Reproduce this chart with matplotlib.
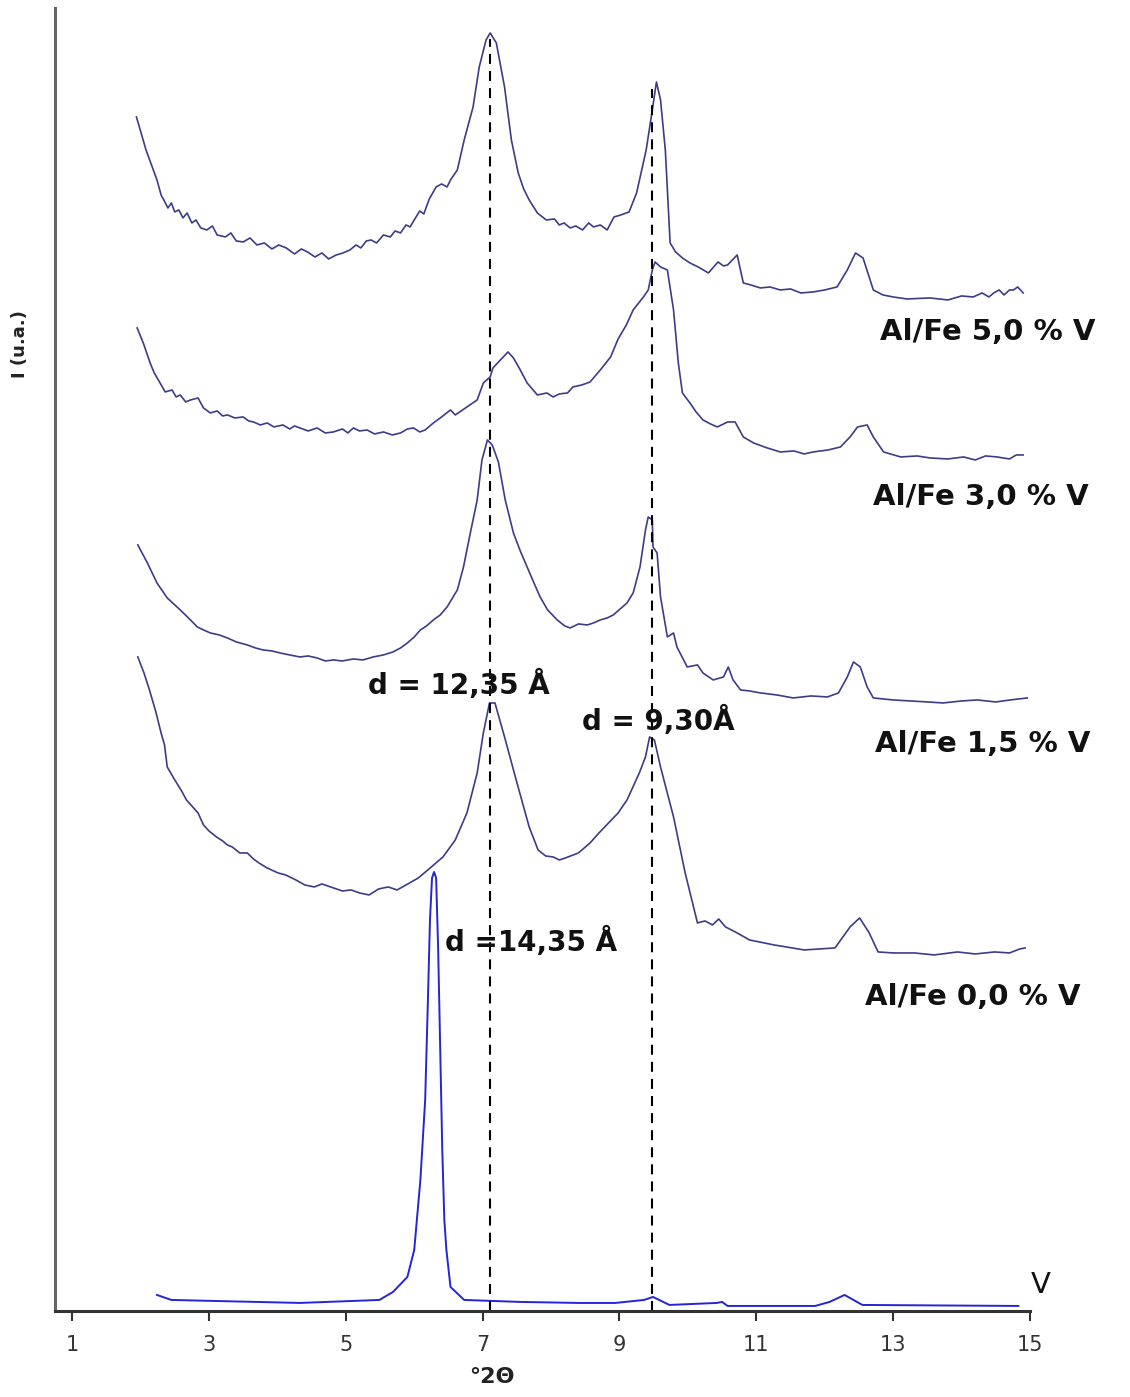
import numpy as np
from matplotlib import pyplot as plt

# ---------------- dati (2theta in gradi, intensita' in u.a.) ----------------
tt_50 = [1.94, 2.00, 2.08, 2.16, 2.24, 2.30, 2.34, 2.40, 2.45, 2.50, 2.56, 2.62, 2.68, 2.75, 2.81,
         2.88, 2.97, 3.05, 3.12, 3.24, 3.32, 3.40, 3.50, 3.60, 3.70, 3.81, 3.92, 4.02, 4.13, 4.25,
         4.35, 4.44, 4.55, 4.65, 4.75, 4.86, 4.96, 5.06, 5.15, 5.22, 5.30, 5.37, 5.45, 5.55, 5.65,
         5.72, 5.80, 5.88, 5.94, 6.00, 6.08, 6.14, 6.22, 6.32, 6.40, 6.48, 6.53, 6.63, 6.73, 6.86,
         6.95, 7.05, 7.11, 7.20, 7.32, 7.42, 7.52, 7.60, 7.68, 7.80, 7.93, 8.05, 8.12, 8.19, 8.28,
         8.36, 8.46, 8.55, 8.62, 8.72, 8.82, 8.92, 9.02, 9.14, 9.25, 9.39, 9.48, 9.54, 9.60, 9.67,
         9.74, 9.82, 9.92, 10.03, 10.15, 10.30, 10.44, 10.52, 10.58, 10.72, 10.81, 10.92, 11.06,
         11.20, 11.35, 11.50, 11.65, 11.83, 12.00, 12.18, 12.33, 12.45, 12.56, 12.71, 12.85, 13.00,
         13.20, 13.54, 13.80, 14.00, 14.17, 14.30, 14.40, 14.47, 14.55, 14.62, 14.70, 14.76, 14.82, 14.90]
I_50 = [1194, 1180, 1161, 1146, 1131, 1116, 1111, 1103, 1108, 1099, 1101, 1093, 1098, 1088, 1091,
        1083, 1081, 1085, 1076, 1074, 1078, 1070, 1069, 1073, 1066, 1068, 1062, 1066, 1063, 1057,
        1062, 1059, 1054, 1058, 1052, 1056, 1058, 1061, 1066, 1063, 1070, 1071, 1068, 1076, 1074,
        1080, 1078, 1086, 1084, 1091, 1100, 1097, 1112, 1124, 1127, 1124, 1131, 1141, 1171, 1204,
        1244, 1271, 1278, 1268, 1224, 1171, 1138, 1122, 1111, 1098, 1091, 1092, 1086, 1088, 1083,
        1085, 1081, 1088, 1084, 1086, 1081, 1094, 1096, 1099, 1118, 1161, 1201, 1229, 1211, 1161,
        1068, 1059, 1053, 1048, 1044, 1038, 1049, 1045, 1046, 1056, 1028, 1026, 1023,
        1024, 1021, 1022, 1018, 1019, 1021, 1024, 1041, 1058, 1053, 1021, 1016, 1014,
        1012, 1013, 1011, 1015, 1014, 1018, 1014, 1018, 1021, 1016, 1021, 1021, 1024, 1018]

tt_30 = [1.95, 2.04, 2.14, 2.20, 2.26, 2.36, 2.46, 2.52, 2.58, 2.66, 2.73, 2.84, 2.92, 3.02, 3.12,
         3.20, 3.27, 3.38, 3.50, 3.58, 3.65, 3.75, 3.85, 3.95, 4.08, 4.18, 4.25, 4.33, 4.45, 4.58,
         4.70, 4.82, 4.95, 5.03, 5.11, 5.20, 5.31, 5.42, 5.55, 5.68, 5.80, 5.90, 5.99, 6.08, 6.16,
         6.28, 6.40, 6.53, 6.60, 6.77, 6.92, 7.01, 7.11, 7.15, 7.26, 7.37, 7.45, 7.55, 7.65, 7.80,
         7.94, 8.03, 8.12, 8.24, 8.32, 8.45, 8.57, 8.72, 8.87, 8.98, 9.10, 9.20, 9.35, 9.42, 9.48,
         9.52, 9.60, 9.70, 9.79, 9.86, 9.92, 10.03, 10.12, 10.22, 10.33, 10.43, 10.58, 10.69, 10.81,
         10.96, 11.16, 11.35, 11.55, 11.70, 11.83, 12.05, 12.23, 12.37, 12.48, 12.62, 12.71, 12.86,
         13.11, 13.35, 13.54, 13.80, 14.03, 14.20, 14.35, 14.52, 14.70, 14.80, 14.90]
I_30 = [983, 968, 948, 938, 931, 919, 921, 914, 916, 909, 911, 913, 903, 898, 900,
        895, 896, 893, 894, 890, 889, 886, 888, 884, 886, 882, 885, 883, 880, 883,
        878, 879, 882, 878, 883, 880, 881, 877, 879, 876, 878, 882, 883, 879, 881,
        888, 894, 901, 896, 904, 911, 928, 934, 943, 951, 959, 953, 941, 928, 916,
        918, 914, 917, 918, 924, 926, 929, 941, 954, 972, 986, 1001, 1014, 1021, 1041,
        1049, 1044, 1041, 1001, 948, 918, 908, 899, 891, 887, 884, 889, 889, 874,
        868, 863, 859, 860, 857, 859, 861, 864, 874, 884, 886, 874, 859,
        854, 855, 853, 852, 854, 851, 855, 854, 852, 856, 856]

tt_15 = [1.96, 2.10, 2.24, 2.39, 2.58, 2.70, 2.83, 2.92, 3.02, 3.15, 3.27, 3.40, 3.56, 3.68, 3.79,
         3.92, 4.04, 4.18, 4.33, 4.45, 4.58, 4.70, 4.82, 4.95, 5.11, 5.25, 5.40, 5.55, 5.69, 5.80,
         5.90, 6.00, 6.09, 6.18, 6.28, 6.38, 6.48, 6.63, 6.72, 6.82, 6.92, 6.99, 7.07, 7.14, 7.23,
         7.33, 7.45, 7.55, 7.65, 7.75, 7.84, 7.95, 8.09, 8.20, 8.28, 8.40, 8.53, 8.62, 8.72, 8.82,
         8.91, 9.11, 9.20, 9.30, 9.38, 9.42, 9.48, 9.49, 9.55, 9.60, 9.70, 9.79, 9.84, 9.99, 10.14,
         10.22, 10.37, 10.52, 10.59, 10.66, 10.77, 10.90, 11.06, 11.30, 11.54, 11.80, 12.04, 12.20,
         12.33, 12.42, 12.52, 12.62, 12.71, 13.00, 13.25, 13.50, 13.73, 14.00, 14.23, 14.50, 14.71, 14.96]
I_15 = [766, 748, 728, 713, 701, 693, 684, 681, 678, 676, 673, 669, 666, 663, 661,
        660, 658, 656, 654, 655, 653, 650, 651, 650, 652, 651, 654, 656, 659, 663,
        668, 674, 681, 685, 691, 696, 704, 721, 744, 778, 811, 851, 871, 866, 849,
        811, 778, 760, 744, 728, 714, 701, 691, 685, 683, 687, 686, 688, 691, 693,
        696, 708, 718, 744, 781, 794, 791, 764, 758, 714, 674, 678, 664, 644, 646,
        638, 631, 634, 644, 631, 621, 620, 618, 616, 613, 615, 614, 618,
        634, 649, 644, 624, 613, 611, 610, 609, 608, 610, 611, 609, 611, 613]

tt_00 = [1.96, 2.05, 2.13, 2.22, 2.30, 2.35, 2.39, 2.50, 2.60, 2.67, 2.75, 2.84, 2.92, 3.00, 3.11,
         3.20, 3.27, 3.34, 3.45, 3.56, 3.65, 3.73, 3.85, 4.01, 4.12, 4.27, 4.40, 4.54, 4.65, 4.82,
         4.95, 5.08, 5.20, 5.34, 5.48, 5.62, 5.75, 5.88, 6.06, 6.25, 6.42, 6.60, 6.77, 6.92, 7.01,
         7.10, 7.18, 7.32, 7.49, 7.68, 7.81, 7.92, 8.03, 8.12, 8.21, 8.40, 8.57, 8.70, 8.84, 8.98,
         9.11, 9.29, 9.38, 9.44, 9.51, 9.60, 9.79, 9.96, 10.14, 10.25, 10.36, 10.45, 10.55, 10.72,
         10.90, 11.26, 11.70, 12.15, 12.37, 12.51, 12.65, 12.78, 13.00, 13.31, 13.60, 13.94, 14.20,
         14.48, 14.70, 14.85, 14.93]
I_00 = [654, 638, 621, 600, 578, 566, 544, 531, 520, 511, 505, 498, 486, 480, 474,
        470, 466, 464, 458, 458, 452, 448, 443, 438, 436, 431, 426, 424, 427, 423,
        420, 421, 418, 416, 422, 424, 421, 426, 433, 444, 454, 471, 498, 538, 578,
        608, 608, 574, 531, 484, 461, 455, 454, 451, 453, 458, 468, 478, 488, 498,
        511, 538, 554, 574, 571, 544, 494, 438, 388, 390, 386, 392, 384, 378,
        371, 366, 361, 363, 384, 393, 378, 359, 358, 358, 356, 359, 357,
        359, 358, 362, 363]

tt_V = [2.24, 2.45, 4.33, 5.49, 5.69, 5.90, 6.00, 6.09, 6.16, 6.20, 6.23, 6.26, 6.29, 6.32, 6.35,
        6.38, 6.41, 6.44, 6.47, 6.53, 6.73, 7.56, 8.40, 8.94, 9.36, 9.49, 9.73, 10.42, 10.50, 10.58,
        11.86, 12.07, 12.29, 12.55, 14.83]
I_V = [16, 11, 8, 11, 19, 34, 61, 131, 211, 311, 391, 433, 439, 433, 361,
       261, 161, 91, 61, 24, 11, 9, 8, 8, 11, 14, 6, 8, 9, 5,
       5, 9, 16, 6, 5]

# posizioni dei picchi (linee tratteggiate) e loro altezza
picchi = [7.11, 9.48]
altezza_picchi = [1272, 1222]

etichette = ["Al/Fe 5,0 % V", "Al/Fe 3,0 % V", "Al/Fe 1,5 % V", "Al/Fe 0,0 % V"]
pos_etichette = [(12.81, 979), (12.71, 814), (12.74, 567), (12.59, 314)]

fig = plt.figure(figsize=(11.3, 13.97), dpi=100)
ax = fig.add_axes([0.0487, 0.0616, 0.8628, 0.9327])

col = "#3c3c88"
for tt, I in [(tt_50, I_50), (tt_30, I_30), (tt_15, I_15), (tt_00, I_00)]:
    ax.plot(tt, I, color=col, lw=1.2)
ax.plot(tt_V, I_V, color="#2424d8", lw=1.4)

ax.vlines(picchi, 0, altezza_picchi, colors="black", lw=1.5, linestyles=(0, (4.8, 3.4)))

for testo, (x, y) in zip(etichette, pos_etichette):
    ax.text(x, y, testo, fontsize=21, fontweight="bold", ha="left", va="center", color="#111111")
ax.text(15.01, 26, "V", fontsize=21, ha="left", va="center", color="#111111", clip_on=False)

ax.text(5.33, 626, "d = 12,35 Å", fontsize=20, fontweight="bold", ha="left", va="center", color="#111111")
ax.text(8.45, 590, "d = 9,30Å", fontsize=20, fontweight="bold", ha="left", va="center", color="#111111")
ax.text(6.45, 369, "d =14,35 Å", fontsize=20, fontweight="bold", ha="left", va="center", color="#111111")

ax.set_xlim(0.75, 15.0)
ax.set_ylim(0, 1303)
ax.set_xticks([1, 3, 5, 7, 9, 11, 13, 15])
ax.set_yticks([])
ax.tick_params(axis="x", direction="out", length=7, width=1.5, pad=10, labelsize=15,
               colors="#333333")
for s in ["top", "right"]:
    ax.spines[s].set_visible(False)
ax.spines["left"].set_color("#666666")
ax.spines["left"].set_linewidth(2.2)
ax.spines["bottom"].set_color("#333333")
ax.spines["bottom"].set_linewidth(2.2)

fig.text(0.018, 0.754, "I (u.a.)", rotation=90, fontsize=13, fontweight="bold",
         ha="center", va="center", color="#222222")
fig.text(0.435, 0.007, "°2Θ", fontsize=16, fontweight="bold", ha="center", va="bottom",
         color="#222222")

plt.savefig("out.png", dpi=100, facecolor="white")
